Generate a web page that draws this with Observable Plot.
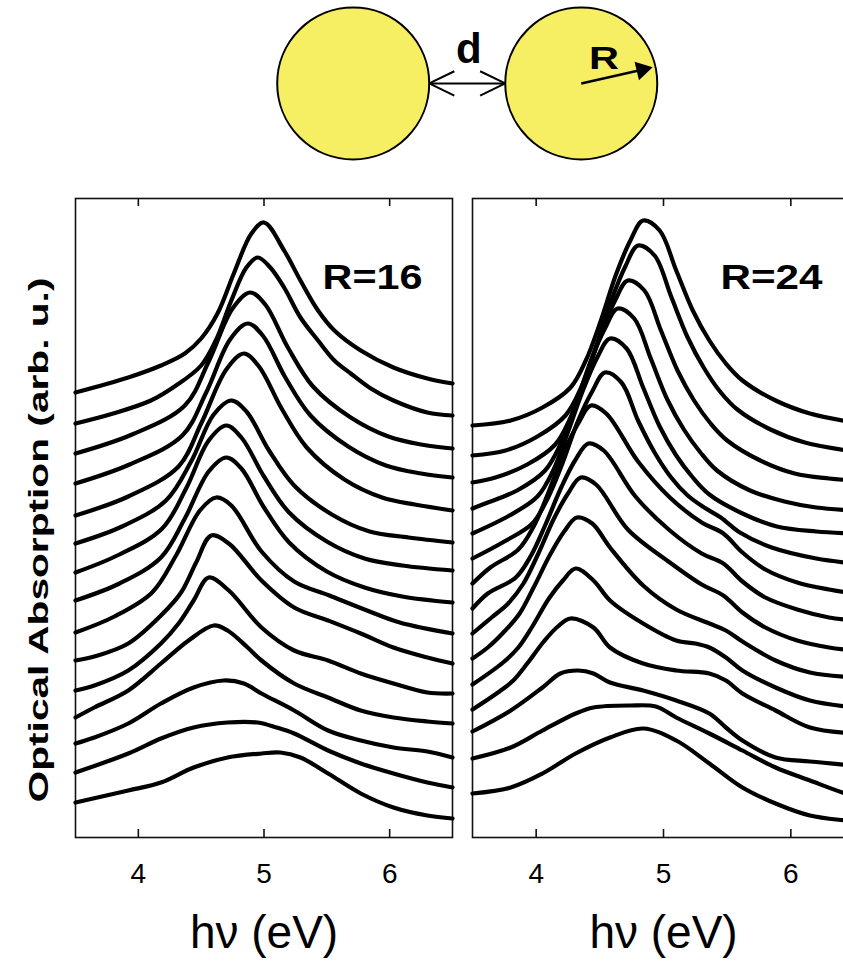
<!DOCTYPE html>
<html><head><meta charset="utf-8">
<script src="https://cdn.jsdelivr.net/npm/d3@7"></script>
<script src="https://cdn.jsdelivr.net/npm/@observablehq/plot@0.6"></script>
<style>
html,body{margin:0;padding:0;background:#fff;overflow:hidden;width:843px;height:962px}
#fig{position:relative;width:843px;height:962px;overflow:hidden;font-family:"Liberation Sans",Arial,sans-serif}
#fig svg{position:absolute;overflow:visible}
</style></head><body><div id="fig"></div>
<script>
// ---- data (photon energy in eV, absorption in arbitrary units incl. vertical offset) ----
const xTicks = [4, 5, 6];
const xLabel = "hν (eV)";
const yLabel = "Optical Absorption (arb. u.)";
const panelLabels = ["R=16", "R=24"];

const r16Curves = [
  [[3.5,445],[3.92,460],[4.18,472],[4.37,484],[4.5,499],[4.63,524],[4.76,564],[4.9,604],[5.0,615],[5.16,587],[5.29,557],[5.43,527],[5.56,507],[5.77,487],[6.03,470],[6.3,459],[6.5,454]],
  [[3.5,414],[3.8,424],[4.1,437],[4.3,452],[4.5,472],[4.62,498],[4.74,537],[4.86,570],[4.95,580],[5.05,570],[5.16,550],[5.29,520],[5.43,497],[5.56,477],[5.69,464],[5.85,449],[6.03,437],[6.3,425],[6.5,422]],
  [[3.5,384],[3.95,403],[4.37,432],[4.56,476],[4.75,529],[4.89,545],[5.01,533],[5.19,490],[5.39,451],[5.69,420],[5.99,401],[6.25,393],[6.5,389]],
  [[3.5,354],[3.93,373],[4.35,402],[4.54,445],[4.73,498],[4.87,514],[4.99,502],[5.17,460],[5.37,422],[5.67,391],[5.97,372],[6.25,364],[6.5,360]],
  [[3.5,322],[3.92,341],[4.32,371],[4.5,414],[4.7,468],[4.84,484],[4.96,471],[5.14,429],[5.34,390],[5.64,358],[5.94,340],[6.2,333],[6.5,327]],
  [[3.5,294],[3.87,311],[4.22,337],[4.42,376],[4.6,423],[4.74,437],[4.86,426],[5.04,387],[5.24,352],[5.54,323],[5.84,306],[6.15,300],[6.5,295]],
  [[3.5,265],[3.85,283],[4.19,309],[4.38,349],[4.56,397],[4.7,412],[4.82,400],[5.0,361],[5.2,325],[5.5,296],[5.8,279],[6.1,272],[6.5,267]],
  [[3.5,237],[3.85,254],[4.18,280],[4.37,319],[4.56,366],[4.7,380],[4.82,369],[5.0,330],[5.2,295],[5.5,266],[5.8,250],[6.1,241],[6.5,235]],
  [[3.5,205],[3.81,221],[4.11,245],[4.3,282],[4.49,327],[4.62,340],[4.74,332],[4.98,286],[5.24,256],[5.52,242],[5.82,227],[6.08,215],[6.5,204]],
  [[3.5,177],[3.65,181],[3.92,194],[4.18,222],[4.34,245],[4.46,275],[4.58,302],[4.72,294],[4.98,257],[5.24,230],[5.51,217],[5.77,204],[6.03,190],[6.3,180],[6.5,174]],
  [[3.5,147],[3.65,152],[3.92,167],[4.18,194],[4.32,214],[4.44,237],[4.56,260],[4.72,247],[4.98,210],[5.24,187],[5.51,177],[5.77,164],[6.03,154],[6.3,145],[6.5,144]],
  [[3.5,120],[3.65,130],[3.92,147],[4.18,174],[4.4,197],[4.6,212],[4.71,207],[4.87,190],[4.98,177],[5.24,154],[5.51,140],[5.77,127],[6.03,120],[6.3,116],[6.5,114]],
  [[3.5,94],[3.65,100],[3.92,114],[4.18,134],[4.44,150],[4.68,157],[4.84,154],[4.98,144],[5.24,127],[5.51,107],[5.77,97],[6.03,90],[6.3,86],[6.5,80]],
  [[3.5,65],[3.92,84],[4.18,99],[4.44,110],[4.71,115],[4.95,115],[5.1,110],[5.24,104],[5.51,87],[5.77,74],[6.03,64],[6.3,55],[6.5,50]],
  [[3.5,35],[3.92,47],[4.18,55],[4.44,70],[4.71,80],[4.98,84],[5.13,85],[5.29,80],[5.51,64],[5.77,44],[6.03,30],[6.3,22],[6.5,19]]
];

const r24Curves = [
  [[3.5,412],[3.8,417],[4.05,430],[4.27,450],[4.39,477],[4.5,514],[4.63,564],[4.74,597],[4.84,617],[4.97,607],[5.1,567],[5.23,527],[5.36,497],[5.49,474],[5.62,457],[5.88,437],[6.15,424],[6.5,415]],
  [[3.5,382],[3.76,387],[4.01,401],[4.23,422],[4.35,449],[4.46,487],[4.59,537],[4.7,571],[4.8,592],[4.93,582],[5.06,541],[5.19,500],[5.32,469],[5.45,445],[5.58,428],[5.84,408],[6.11,395],[6.5,386]],
  [[3.5,355],[3.68,360],[3.93,373],[4.15,393],[4.27,420],[4.38,456],[4.51,504],[4.62,537],[4.72,557],[4.85,547],[4.98,507],[5.11,467],[5.24,437],[5.37,414],[5.5,397],[5.76,377],[6.03,364],[6.3,359],[6.5,357]],
  [[3.5,329],[3.6,334],[3.85,347],[4.07,367],[4.19,393],[4.3,429],[4.43,477],[4.54,509],[4.64,529],[4.77,519],[4.9,479],[5.03,438],[5.16,408],[5.29,385],[5.42,367],[5.68,347],[5.95,336],[6.2,330],[6.5,327]],
  [[3.5,304],[3.79,322],[4.01,341],[4.13,366],[4.24,402],[4.37,448],[4.48,480],[4.58,499],[4.71,489],[4.84,450],[4.97,411],[5.1,382],[5.23,360],[5.36,343],[5.62,324],[5.89,311],[6.2,306],[6.5,304]],
  [[3.5,279],[3.75,296],[3.97,314],[4.09,339],[4.2,372],[4.33,417],[4.44,446],[4.54,465],[4.67,455],[4.8,417],[4.93,385],[5.06,360],[5.19,342],[5.32,330],[5.45,320],[5.6,305],[5.85,290],[6.2,279],[6.5,274]],
  [[3.5,254],[3.64,270],[3.86,288],[3.98,311],[4.09,343],[4.22,386],[4.33,414],[4.43,432],[4.55,424],[4.8,376],[5.05,340],[5.3,315],[5.47,304],[5.62,285],[5.8,268],[6.05,255],[6.3,248],[6.5,244]],
  [[3.5,229],[3.62,244],[3.84,260],[3.96,282],[4.07,312],[4.2,351],[4.31,378],[4.41,394],[4.53,387],[4.78,341],[5.05,307],[5.3,284],[5.47,274],[5.62,256],[5.8,240],[6.05,228],[6.3,220],[6.5,217]],
  [[3.5,204],[3.65,220],[3.78,234],[3.9,254],[4.01,282],[4.14,319],[4.25,344],[4.35,360],[4.47,353],[4.72,308],[5.05,275],[5.3,253],[5.47,242],[5.62,225],[5.8,210],[6.05,197],[6.3,190],[6.5,187]],
  [[3.5,179],[3.62,190],[3.75,206],[3.87,224],[3.98,250],[4.11,283],[4.22,306],[4.32,320],[4.44,314],[4.58,290],[4.84,252],[5.1,228],[5.36,214],[5.49,207],[5.62,196],[5.88,177],[6.15,165],[6.5,160]],
  [[3.5,153],[3.74,175],[3.86,190],[3.97,211],[4.1,239],[4.21,257],[4.31,269],[4.45,257],[4.58,237],[4.84,214],[5.1,197],[5.25,194],[5.36,190],[5.49,180],[5.62,167],[5.88,150],[6.15,137],[6.5,130]],
  [[3.5,128],[3.7,145],[3.82,157],[3.93,174],[4.06,196],[4.17,211],[4.27,219],[4.45,210],[4.58,190],[4.84,174],[5.1,167],[5.36,164],[5.49,157],[5.62,144],[5.88,127],[6.15,110],[6.5,104]],
  [[3.5,106],[3.8,127],[4.05,150],[4.19,164],[4.33,167],[4.45,164],[4.58,155],[4.84,147],[5.1,137],[5.36,124],[5.49,110],[5.62,97],[5.88,80],[6.15,76],[6.5,72]],
  [[3.5,79],[3.8,90],[4.05,107],[4.31,124],[4.45,130],[4.74,132],[4.94,131],[5.1,120],[5.36,104],[5.62,87],[5.88,70],[6.15,57],[6.43,44],[6.5,42]],
  [[3.5,44],[3.8,50],[4.05,64],[4.31,84],[4.58,100],[4.84,109],[5.1,97],[5.36,74],[5.62,50],[5.88,34],[6.15,22],[6.43,17],[6.5,16]]
];

// schematic (units of sphere radius R)
const spheres = [{x: -1.5, y: 0}, {x: 1.5, y: 0}];
const gapArrow = [
  {x1: -0.5, y1: 0, x2: 0.5, y2: 0},
  {x1: -0.5, y1: 0, x2: -0.17, y2: 0.16},
  {x1: -0.5, y1: 0, x2: -0.17, y2: -0.16},
  {x1: 0.5, y1: 0, x2: 0.17, y2: 0.16},
  {x1: 0.5, y1: 0, x2: 0.17, y2: -0.16}
];
const radiusShaft = [{x1: 1.5, y1: 0, x2: 2.3, y2: 0.18}];
const radiusHead = [{x: 2.3, y: 0.18}];
const gapLabel = [{x: 0.02, y: 0.44, text: "d"}];
const radiusLabel = [{x: 1.8, y: 0.32, text: "R"}];

const FONT = '"Liberation Sans", Arial, Helvetica, sans-serif';
const fig = document.getElementById("fig");

// stretch a text element along its own direction to a target length (keeps its anchor fixed)
function stretch(svg, content, len) {
  svg.querySelectorAll("text").forEach(t => {
    if (t.textContent !== content) return;
    const w = t.getComputedTextLength();
    if (!w) return;
    const s = len / w;
    const tr = t.getAttribute("transform");
    if (tr) t.setAttribute("transform", tr + ` scale(${s},1)`);
    else {
      const x = +t.getAttribute("x") || 0, y = +t.getAttribute("y") || 0;
      t.setAttribute("transform", `translate(${x},${y}) scale(${s},1) translate(${-x},${-y})`);
    }
  });
}

// ---- schematic ----
const diagram = Plot.plot({
  width: 843, height: 175, margin: 0,
  x: {domain: [-6.14, 4.95], axis: null},
  y: {domain: [-1.21, 1.09], axis: null},
  style: {position: "absolute", left: "0px", top: "0px", background: "transparent", fontFamily: FONT},
  marks: [
    Plot.dot(spheres, {x: "x", y: "y", r: 76, fill: "#f7ef63", stroke: "#000", strokeWidth: 2}),
    Plot.link(gapArrow, {x1: "x1", y1: "y1", x2: "x2", y2: "y2", stroke: "#000", strokeWidth: 2}),
    Plot.link(radiusShaft, {x1: "x1", y1: "y1", x2: "x2", y2: "y2", stroke: "#000", strokeWidth: 2.5}),
    Plot.dot(radiusHead, {x: "x", y: "y", symbol: "triangle2", r: 9, rotate: 76.5, fill: "#000", stroke: "none"}),
    Plot.text(gapLabel, {x: "x", y: "y", text: "text", fontSize: 42, fontWeight: "bold", fill: "#000"}),
    Plot.text(radiusLabel, {x: "x", y: "y", text: "text", fontSize: 31, fontWeight: "bold", fill: "#000"})
  ]
});
fig.appendChild(diagram);
stretch(diagram, "R", 30);

// ---- panels ----
function panel(curves, label, left, marginLeft, plotWidth, labelDx, labelLen, withYLabel) {
  const data = curves.flatMap((c, i) => c.map(([e, a]) => ({curve: i, e, a})));
  const marks = [
    Plot.frame({stroke: "#111", strokeWidth: 1.6}),
    Plot.ruleX(xTicks, {insetTop: 631, stroke: "#111", strokeWidth: 1.6}),
    Plot.ruleX(xTicks, {insetBottom: 631, stroke: "#111", strokeWidth: 1.6}),
    Plot.axisX({ticks: xTicks, tickSize: 0, tickPadding: 26, fontSize: 28, label: null, tickFormat: d => String(d)}),
    Plot.text([xLabel], {frameAnchor: "bottom", lineAnchor: "middle", dy: 96, fontSize: 46, fill: "#000"}),
    Plot.line(data, {x: "e", y: "a", z: "curve", stroke: "#000", strokeWidth: 4.2, curve: "catmull-rom"}),
    Plot.text([label], {frameAnchor: "top-right", textAnchor: "end", lineAnchor: "middle", dx: labelDx, dy: 79, fontSize: 35, fontWeight: "bold", fill: "#000"})
  ];
  if (withYLabel) {
    marks.push(Plot.text([yLabel], {frameAnchor: "left", textAnchor: "middle", lineAnchor: "middle", dx: -36, dy: 22, rotate: -90, fontSize: 28, fontWeight: "bold", fill: "#000"}));
  }
  const svg = Plot.plot({
    width: marginLeft + plotWidth + 10, height: 774,
    marginLeft, marginRight: 10, marginTop: 10, marginBottom: 125,
    x: {domain: [3.5, 6.5]},
    y: {domain: [0, 639], axis: null},
    style: {position: "absolute", left: left + "px", top: "188px", background: "transparent", fontFamily: FONT, color: "#000"},
    marks
  });
  fig.appendChild(svg);
  stretch(svg, label, labelLen);
  if (withYLabel) stretch(svg, yLabel, 525);
}

panel(r16Curves, panelLabels[0], 0, 75, 377, -30, 100, true);
panel(r24Curves, panelLabels[1], 462, 10, 382, -32, 102, false);
</script>
</body></html>
